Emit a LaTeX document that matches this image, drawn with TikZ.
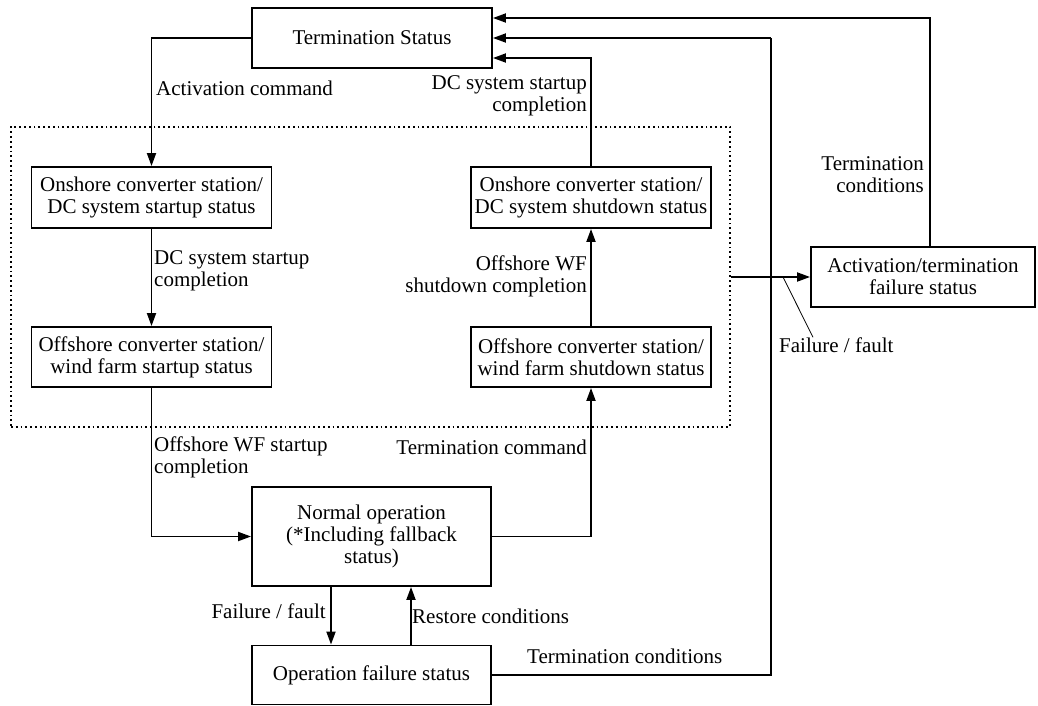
\documentclass[tikz,border=0pt]{standalone}
\usepackage{fontspec}
\setmainfont{Liberation Serif}
\usetikzlibrary{arrows.meta}
\begin{document}
\begin{tikzpicture}[x=1pt,y=-1pt,
  font=\fontsize{21}{22}\selectfont,
  statebox/.style={draw,line width=1.9pt,align=center,inner sep=0pt,
    minimum width=240pt,minimum height=60pt},
  flow/.style={line width=1.9pt,-{Triangle[length=13pt,width=9pt]}},
  link/.style={line width=1.9pt},
  lbl/.style={inner sep=0pt,align=left},
  rlbl/.style={inner sep=0pt,align=right},
]
\useasboundingbox (0,0) rectangle (1038,706);

% dotted frame around the converter start-up / shut-down states
\node[draw,line width=1.8pt,dash pattern=on 1.8pt off 3pt,
      minimum width=719pt,minimum height=300pt,inner sep=0pt] (grp) at (370.5,277) {};

% states
\node[statebox] (term) at (372,38) {Termination Status};
\node[statebox,minimum height=61pt] (onup) at (151.5,197.5)
  {Onshore converter station/\\DC system startup status};
\node[statebox] (offup) at (151.5,357)
  {Offshore converter station/\\wind farm startup status};
\node[statebox,minimum height=61pt] (ondown) at (591,197.5)
  {Onshore converter station/\\DC system shutdown status};
\node[statebox] (offdown) at (591,357)
  {Offshore converter station/\\wind farm shutdown status};
\node[statebox,minimum width=239pt,minimum height=99pt] (normal) at (371.5,536.5)
  {Normal operation\\(*Including fallback\\status)};
\node[statebox,minimum width=239pt,minimum height=59pt] (opfail) at (371.5,675)
  {Operation failure status};
\node[statebox,minimum width=224pt] (actfail) at (923,277)
  {Activation/termination\\failure status};

% helper points
\coordinate (tc) at (771,38);
\coordinate (ffp) at (783,277);

% start-up sequence
\draw[flow] (term.west) -| (onup.north);
\draw[flow] (onup.south) -- (offup.north);
\draw[flow] (offup.south) |- (normal.west);

% shut-down sequence
\draw[flow] (normal.east) -| (offdown.south);
\draw[flow] (offdown.north) -- (ondown.south);
\draw[flow] (ondown.north) |- ([yshift=-20pt]term.east);

% failures
\draw[flow] ([xshift=-40.5pt]normal.south) -- ([xshift=-40.5pt]opfail.north);
\draw[flow] ([xshift=39.5pt]opfail.north) -- ([xshift=39.5pt]normal.south);
\draw[link] (opfail.east) -| (tc);
\draw[flow] (tc) -- (term.east);
\draw[flow] (grp.east) -- (actfail.west);
\draw[flow] ([xshift=7pt]actfail.north) |- ([yshift=20pt]term.east);

% transition labels
\node[lbl,anchor=west] (l1) at (156,88) {Activation command};
\node[rlbl,anchor=east] (l2) at (587,96) {DC system startup\\completion};
\node[lbl,anchor=west] (l3) at (154,271) {DC system startup\\completion};
\node[rlbl,anchor=east] (l4) at (587,276) {Offshore WF\\shutdown completion};
\node[rlbl,anchor=east] (l5) at (924,175) {Termination\\conditions};
\node[lbl,anchor=west] (l6) at (779,345) {Failure / fault};
\node[lbl,anchor=west] (l7) at (154,457) {Offshore WF startup\\completion};
\node[rlbl,anchor=east] (l8) at (587,447) {Termination command};
\node[rlbl,anchor=east] (l9) at (326,611) {Failure / fault};
\node[lbl,anchor=west] (l10) at (412,616) {Restore conditions};
\node[lbl,anchor=west] (l11) at (527,656) {Termination conditions};

% leader from the failure label to its arrow
\draw[line width=0.8pt] (ffp) -- ([xshift=34pt]l6.north west);
\end{tikzpicture}
\end{document}
